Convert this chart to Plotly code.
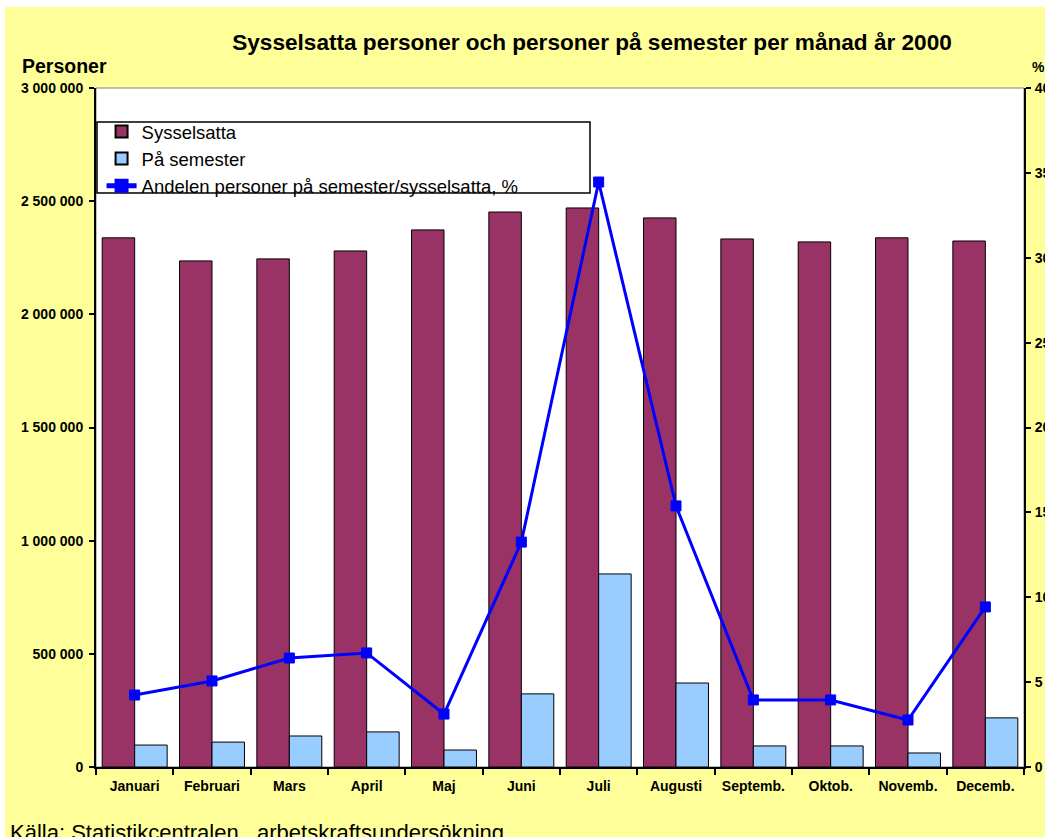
import plotly.graph_objects as go

months = ["Januari", "Februari", "Mars", "April", "Maj", "Juni", "Juli",
          "Augusti", "Septemb.", "Oktob.", "Novemb.", "Decemb."]
sysselsatta = [2338000, 2236000, 2245000, 2280000, 2373000, 2452000,
               2470000, 2426000, 2333000, 2320000, 2338000, 2324000]
pa_semester = [97000, 110000, 137000, 155000, 75000, 323000,
               853000, 371000, 93000, 93000, 62000, 217000]
andel_pct = [4.24, 5.07, 6.42, 6.72, 3.12, 13.25,
             34.46, 15.38, 3.95, 3.95, 2.77, 9.43]

W, H = 1040, 830
ML, MR, MT, MB = 91, 21, 81, 70
PW, PH = W - ML - MR, H - MT - MB

def px(xf):
    return (xf - ML) / PW

def py(yf):
    return (H - MB - yf) / PH

FONT = "Arial, Liberation Sans, sans-serif"

fig = go.Figure()
fig.add_trace(go.Bar(
    x=months, y=sysselsatta, name="Sysselsatta",
    marker=dict(color="#993366", line=dict(color="black", width=1)),
))
fig.add_trace(go.Bar(
    x=months, y=pa_semester, name="På semester",
    marker=dict(color="#99CCFF", line=dict(color="black", width=1)),
))
fig.add_trace(go.Scatter(
    x=months, y=andel_pct, name="Andelen personer på semester/sysselsatta, %",
    yaxis="y2", mode="lines+markers",
    line=dict(color="#0000FF", width=3),
    marker=dict(symbol="square", size=10, color="#0000FF",
                line=dict(color="#0000FF", width=1)),
))

fig.update_layout(
    width=W, height=H,
    margin=dict(l=ML, r=MR, t=MT, b=MB, pad=0, autoexpand=False),
    paper_bgcolor="#FFFF99",
    plot_bgcolor="white",
    separators=", ",
    font=dict(family=FONT, color="black", size=14),
    barmode="group", bargap=0.16, bargroupgap=0.0,
    title=dict(text="Sysselsatta personer och personer på semester per månad år 2000",
               font=dict(family=FONT, size=22.6, weight="bold", color="black"),
               x=587 / W, xanchor="center", xref="container",
               y=1 - 35 / H, yanchor="middle", yref="container"),
    xaxis=dict(
        type="category", range=[-0.5, len(months) - 0.5], automargin=False,
        showline=True, linecolor="black", linewidth=2,
        ticks="outside", ticklen=6, tickcolor="black", tickwidth=1.5,
        tickson="boundaries", showgrid=False,
        tickfont=dict(family=FONT, size=14, weight="bold"),
        ticklabelstandoff=5,
    ),
    yaxis=dict(
        range=[0, 3000000], dtick=500000, tickformat=",d", automargin=False,
        showline=True, linecolor="black", linewidth=2,
        ticks="outside", ticklen=5, tickcolor="black", tickwidth=1.5,
        showgrid=False, zeroline=False,
        tickfont=dict(family=FONT, size=14, weight="bold"),
        ticklabelstandoff=3,
    ),
    yaxis2=dict(
        range=[0, 40], dtick=5, overlaying="y", side="right", automargin=False,
        showline=True, linecolor="black", linewidth=2,
        ticks="outside", ticklen=5, tickcolor="black", tickwidth=1.5,
        showgrid=False, zeroline=False,
        tickfont=dict(family=FONT, size=14, weight="bold"),
        ticklabelstandoff=1,
    ),
    legend=dict(
        x=0.006, y=py(106), xanchor="left", yanchor="top",
        bgcolor="rgba(0,0,0,0)", borderwidth=0,
        font=dict(family=FONT, size=18.5, color="black"),
        tracegroupgap=0, itemsizing="constant",
        traceorder="normal",
    ),
    showlegend=True,
)

# plot frame (thin grey) and legend box
fig.add_shape(type="rect", xref="paper", yref="paper", x0=0, x1=1, y0=0, y1=1,
              line=dict(color="#808080", width=1), layer="below")
fig.add_shape(type="rect", xref="paper", yref="paper",
              x0=px(92), x1=px(585), y0=py(186), y1=py(115),
              line=dict(color="black", width=1.5), fillcolor="white", layer="above")

fig.add_annotation(text="<b>Personer</b>", xref="paper", yref="paper",
                   x=px(15), y=py(59), xanchor="left", yanchor="middle",
                   showarrow=False, font=dict(family=FONT, size=19.5, color="black"))
fig.add_annotation(text="<b>%</b>", xref="paper", yref="paper",
                   x=px(1025), y=py(60), xanchor="left", yanchor="middle",
                   showarrow=False, font=dict(family=FONT, size=14, color="black"))
fig.add_annotation(text="Källa: Statistikcentralen ,\u00a0arbetskraftsundersökning",
                   xref="paper", yref="paper",
                   x=px(3), y=py(825), xanchor="left", yanchor="middle",
                   showarrow=False, font=dict(family=FONT, size=22, color="black"))

fig.write_html("out.html",
               post_script="document.body.style.margin='7px 0 0 5px';"
                           "document.body.style.overflow='hidden';")
